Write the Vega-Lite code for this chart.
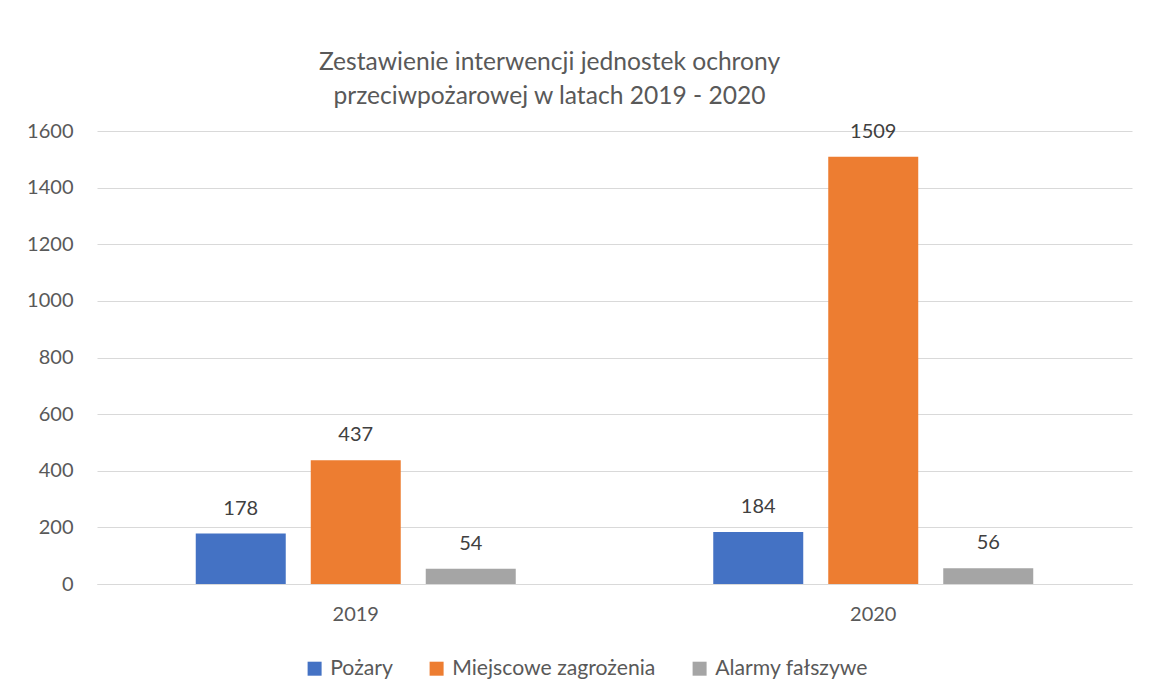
{
  "$schema": "https://vega.github.io/schema/vega-lite/v6.json",
  "width": 1035,
  "height": 453,
  "autosize": {"type": "none"},
  "padding": {"left": 97, "top": 131, "right": 19, "bottom": 115},
  "background": "white",
  "title": {
    "text": ["Zestawienie interwencji jednostek ochrony", "przeciwpożarowej w latach 2019 - 2020"],
    "font": "Lato",
    "fontSize": 24.6,
    "fontWeight": "normal",
    "color": "#595959",
    "lineHeight": 34,
    "anchor": "middle",
    "dx": -65,
    "offset": 11
  },
  "data": {
    "values": [
      {"rok": "2019", "kategoria": "Pożary", "liczba": 178},
      {"rok": "2019", "kategoria": "Miejscowe zagrożenia", "liczba": 437},
      {"rok": "2019", "kategoria": "Alarmy fałszywe", "liczba": 54},
      {"rok": "2020", "kategoria": "Pożary", "liczba": 184},
      {"rok": "2020", "kategoria": "Miejscowe zagrożenia", "liczba": 1509},
      {"rok": "2020", "kategoria": "Alarmy fałszywe", "liczba": 56}
    ]
  },
  "encoding": {
    "x": {
      "field": "rok",
      "type": "nominal",
      "title": null,
      "scale": {"paddingInner": 0, "paddingOuter": 0},
      "axis": {
        "labelAngle": 0,
        "labelFont": "Lato",
        "labelFontSize": 20,
        "labelColor": "#595959",
        "labelPadding": 20,
        "ticks": false,
        "domainColor": "#d9d9d9",
        "domainWidth": 1
      }
    },
    "xOffset": {
      "field": "kategoria",
      "type": "nominal",
      "sort": ["Pożary", "Miejscowe zagrożenia", "Alarmy fałszywe"],
      "scale": {"paddingInner": 0.2174, "paddingOuter": 0.8587}
    },
    "y": {
      "field": "liczba",
      "type": "quantitative",
      "title": null,
      "scale": {"domain": [0, 1600], "nice": false},
      "axis": {
        "values": [0, 200, 400, 600, 800, 1000, 1200, 1400, 1600],
        "format": "d",
        "labelFont": "Lato",
        "labelFontSize": 20,
        "labelColor": "#595959",
        "labelPadding": 24,
        "ticks": false,
        "domain": false,
        "gridColor": "#d9d9d9",
        "gridWidth": 1
      }
    }
  },
  "layer": [
    {
      "mark": {"type": "bar"},
      "encoding": {
        "color": {
          "field": "kategoria",
          "type": "nominal",
          "title": null,
          "sort": ["Pożary", "Miejscowe zagrożenia", "Alarmy fałszywe"],
          "scale": {
            "domain": ["Pożary", "Miejscowe zagrożenia", "Alarmy fałszywe"],
            "range": ["#4472C4", "#ED7D31", "#A5A5A5"]
          },
          "legend": {
            "orient": "none",
            "legendX": 207,
            "legendY": 527,
            "direction": "horizontal",
            "symbolType": "square",
            "symbolSize": 196,
            "symbolStrokeWidth": 0,
            "symbolOpacity": 1,
            "labelFont": "Lato",
            "labelFontSize": 21.2,
            "labelColor": "#595959",
            "labelOffset": 5,
            "columnPadding": 33,
            "labelLimit": 400
          }
        }
      }
    },
    {
      "mark": {"type": "text", "baseline": "middle", "dy": -25, "font": "Lato", "fontSize": 20, "color": "#404040"},
      "encoding": {
        "text": {"field": "liczba", "type": "quantitative"}
      }
    }
  ],
  "config": {
    "view": {"stroke": null}
  }
}
